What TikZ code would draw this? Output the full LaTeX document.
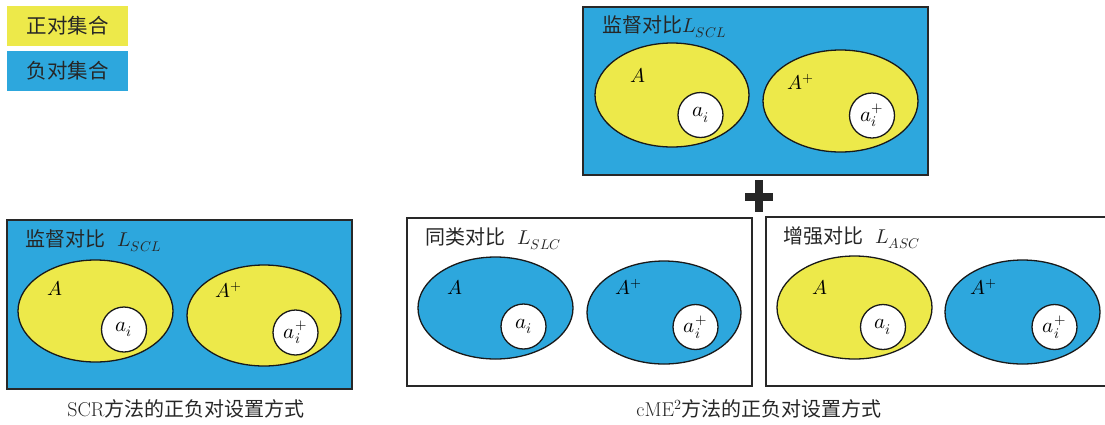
\documentclass[tikz,border=0pt]{standalone}
\usepackage{fontspec}
\usepackage{unicode-math}
\setmainfont{Latin Modern Roman}
\setmathfont{Latin Modern Math}
\newfontfamily\cjk{Noto Sans CJK SC}
\usetikzlibrary{shapes.geometric}
\definecolor{posy}{RGB}{237,233,74}
\definecolor{negb}{RGB}{45,167,221}
\definecolor{edge}{RGB}{40,40,40}
\tikzset{
  legendbox/.style={minimum width=121pt,minimum height=40pt,inner sep=0pt,font=\cjk\fontsize{20.5}{23}\selectfont,text=black!85},
  panel/.style={draw=edge,line width=1.3pt,minimum width=345pt,minimum height=168pt,inner sep=0pt},
  setell/.style={ellipse,draw=black!90,line width=1.3pt,inner sep=0pt},
  elem/.style={circle,draw=black!90,fill=white,line width=1.3pt,inner sep=0pt,minimum size=45pt,font=\fontsize{21}{24}\selectfont},
  setlab/.style={anchor=west,inner sep=0pt,font=\fontsize{20}{23}\selectfont},
  title/.style={anchor=west,inner sep=0pt,font=\cjk\fontsize{20}{23}\selectfont,text=black!85},
  caption/.style={inner sep=0pt,font=\fontsize{20}{24}\selectfont,text=black!85},
}
\begin{document}
\begin{tikzpicture}[x=1pt,y=-1pt]
\useasboundingbox (0,0) rectangle (1105,424);
\clip (0,0) rectangle (1105,424);
% legend
\node[legendbox,fill=posy] (lp) at (67.5,26) {正对集合};
\node[legendbox,fill=negb] (ln) at (67.5,71) {负对集合};
% top panel
\node[panel,fill=negb] (top) at (755.5,91) {};
\node[title] (ttop) at (602,27) {监督对比$L_{SCL}$};
\node[setell,fill=posy,minimum width=154pt,minimum height=104pt] (tA) at (672,95) {};
\node[setell,fill=posy,minimum width=155pt,minimum height=102pt] (tAp) at (840.5,101) {};
\node[elem] (ta) at (700.5,115) {$a_i$};
\node[elem] (tap) at (872,115.5) {$a_i^+$};
\node[setlab] (tAl) at (630,75) {$A$};
\node[setlab] (tApl) at (787,82) {$A^{+}$};
% plus sign
\fill[black!85] (755,180) rectangle (762.5,212);
\fill[black!85] (745,193) rectangle (772.5,200.5);
% left panel (SCR)
\node[panel,fill=negb,minimum height=169pt] (left) at (179.5,304.5) {};
\node[title] (tleft) at (25,241) {监督对比\hspace{0.6em}$L_{SCL}$};
\node[setell,fill=posy,minimum width=155pt,minimum height=102pt] (lA) at (95.5,311) {};
\node[setell,fill=posy,minimum width=154pt,minimum height=101pt] (lAp) at (264,315.5) {};
\node[elem] (la) at (124,329.5) {$a_i$};
\node[elem] (lap) at (295.5,332.5) {$a_i^+$};
\node[setlab] (lAl) at (47,288) {$A$};
\node[setlab] (lApl) at (215,290) {$A^{+}$};
\node[caption] (capl) at (186,409) {SCR{\cjk 方法的正负对设置方式}};
% middle panel (SLC)
\node[panel,fill=white] (mid) at (579.5,302) {};
\node[title] (tmid) at (425,238.5) {同类对比\hspace{0.6em}$L_{SLC}$};
\node[setell,fill=negb,minimum width=155pt,minimum height=102pt] (mA) at (495.5,308) {};
\node[setell,fill=negb,minimum width=154pt,minimum height=103pt] (mAp) at (664,312.5) {};
\node[elem] (ma) at (523.5,326.5) {$a_i$};
\node[elem] (map) at (695.5,327) {$a_i^+$};
\node[setlab] (mAl) at (447,287) {$A$};
\node[setlab] (mApl) at (615,287) {$A^{+}$};
% right panel (ASC)
\node[panel,fill=white,minimum height=169pt] (right) at (938.5,301.5) {};
\node[title] (tright) at (783,238) {增强对比\hspace{0.6em}$L_{ASC}$};
\node[setell,fill=posy,minimum width=155pt,minimum height=103pt] (rA) at (854.5,307.5) {};
\node[setell,fill=negb,minimum width=155pt,minimum height=104pt] (rAp) at (1022.5,312) {};
\node[elem] (ra) at (883,327) {$a_i$};
\node[elem] (rap) at (1054.5,327) {$a_i^+$};
\node[setlab] (rAl) at (812,287) {$A$};
\node[setlab] (rApl) at (970,287) {$A^{+}$};
\node[caption] (capr) at (759,409) {cME$^2${\cjk 方法的正负对设置方式}};
\end{tikzpicture}
\end{document}
